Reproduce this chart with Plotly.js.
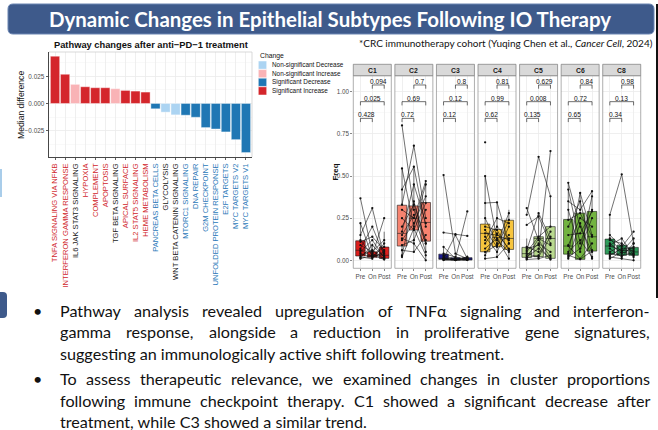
<!DOCTYPE html>
<html><head><meta charset="utf-8">
<script src="https://cdn.plot.ly/plotly-3.0.1.min.js"></script>
<style>html,body{margin:0;padding:0;background:#fff;overflow:hidden}#chart{width:658px;height:430px}</style>
</head><body><div id="chart"></div>
<script>
// ---------------- DATA ----------------
const pathways = ["TNFA SIGNALING VIA NFKB","INTERFERON GAMMA RESPONSE","IL6 JAK STAT3 SIGNALING","HYPOXIA","COMPLEMENT","APOPTOSIS","TGF BETA SIGNALING","APICAL SURFACE","IL2 STAT5 SIGNALING","HEME METABOLISM","PANCREAS BETA CELLS","GLYCOLYSIS","WNT BETA CATENIN SIGNALING","MTORC1 SIGNALING","DNA REPAIR","G2M CHECKPOINT","UNFOLDED PROTEIN RESPONSE","E2F TARGETS","MYC TARGETS V2","MYC TARGETS V1"];
const medianDiff = [0.0435,0.0269,0.0176,0.0154,0.0145,0.0145,0.0136,0.0120,0.0114,0.0105,-0.0049,-0.0080,-0.0105,-0.0108,-0.0127,-0.0222,-0.0235,-0.0262,-0.0333,-0.0452];
const changeClass = ["SI","SI","NI","SI","SI","SI","NI","SI","SI","SI","SD","ND","ND","SD","SD","SD","SD","SD","SD","SD"];
const legendOrder = ["ND","NI","SD","SI"];
const changeNames = {ND:"Non-significant Decrease",NI:"Non-significant Increase",SD:"Significant Decrease",SI:"Significant Increase"};

const clusters = ["C1","C2","C3","C4","C5","C6","C8"];
const timepoints = ["Pre","On","Post"];
// box statistics per cluster: [Pre, On, Post]
const boxQ1  = [[0.026,0.018,0.012],[0.085,0.18,0.114],[0.006,0.002,0.002],[0.051,0.081,0.065],[0.018,0.022,0.012],[0.037,0.006,0.055],[0.037,0.03,0.03]];
const boxMed = [[0.06,0.03,0.03],[0.16,0.25,0.225],[0.012,0.005,0.008],[0.16,0.136,0.13],[0.04,0.13,0.13],[0.085,0.16,0.14],[0.085,0.06,0.05]];
const boxQ3  = [[0.116,0.051,0.079],[0.327,0.323,0.343],[0.037,0.015,0.016],[0.215,0.183,0.238],[0.077,0.14,0.2],[0.242,0.28,0.29],[0.126,0.09,0.077]];
const boxLo  = [[0.005,0.005,0.002],[0.02,0.05,0.0],[0.002,0.001,0.002],[0.01,0.02,0.01],[0.005,0.01,0.005],[0.01,0.006,0.01],[0.01,0.01,0.0]];
const boxHi  = [[0.22,0.1,0.17],[0.545,0.555,0.47],[0.08,0.03,0.03],[0.5,0.344,0.3],[0.13,0.28,0.38],[0.46,0.4,0.41],[0.27,0.13,0.13]];
// p-values: On vs Post, Pre vs Post, Pre vs On
const pOnPost  = ["0.094","0.7","0.8","0.81","0.629","0.84","0.98"];
const pPrePost = ["0.025","0.69","0.12","0.99","0.008","0.72","0.13"];
const pPreOn   = ["0.428","0.72","0.12","0.62","0.135","0.65","0.34"];
// per-patient paired frequencies [Pre, On, Post]
const patientsC1 = [[0.368,0.04,0.01],[0.22,0.02,0.05],[0.15,0.31,0.02],[0.12,0.03,0.25],[0.11,0.14,0.06],[0.09,0.05,0.12],[0.07,0.2,0.03],[0.06,0.025,0.08],[0.05,0.12,0.015],[0.04,0.02,0.04],[0.03,0.06,0.01],[0.02,0.01,0.1],[0.015,0.09,0.02],[0.01,0.03,0.005]];
const patientsC2 = [[0.8,0.3,0.1],[0.545,0.2,0.45],[0.42,0.555,0.2],[0.33,0.68,0.25],[0.3,0.25,0.47],[0.25,0.18,0.34],[0.2,0.33,0.12],[0.17,0.45,0.22],[0.15,0.27,0.05],[0.12,0.22,0.38],[0.09,0.12,0.3],[0.06,0.05,0.15],[0.03,0.35,0.1],[0.02,0.19,0.03],[0.13,0.1,0.0]];
const patientsC3 = [[0.506,0.04,0.01],[0.165,0.155,0.145],[0.08,0.01,0.29],[0.04,0.02,0.005],[0.03,0.005,0.02],[0.01,0.15,0.01],[0.008,0.003,0.012],[0.005,0.008,0.002],[0.003,0.002,0.006],[0.002,0.004,0.003],[0.012,0.006,0.015],[0.02,0.001,0.004]];
const patientsC4 = [[0.7,null,null],[0.5,0.12,0.05],[0.34,0.344,0.1],[0.25,0.1,0.28],[0.2,0.18,0.06],[0.18,0.08,0.24],[0.16,0.15,0.12],[0.14,0.05,0.2],[0.1,0.2,0.13],[0.07,0.13,0.01],[0.05,0.09,0.15],[0.03,0.16,0.07],[0.01,0.02,0.1],[0.12,0.25,0.22]];
const patientsC5 = [[0.31,0.12,0.02],[0.21,0.26,0.1],[0.27,0.614,0.38],[0.08,0.05,0.648],[0.06,0.28,0.13],[0.05,0.14,0.2],[0.04,0.02,0.14],[0.03,0.1,0.05],[0.02,0.07,0.01],[0.015,0.03,0.17],[0.01,0.13,0.09],[0.07,0.09,0.005],[0.005,0.01,0.03]];
const patientsC6 = [[0.46,0.2,0.05],[0.42,0.1,0.3],[0.35,0.3,0.41],[0.3,0.05,0.38],[0.24,0.28,0.14],[0.2,0.35,0.06],[0.15,0.16,0.29],[0.09,0.25,0.2],[0.085,0.01,0.1],[0.05,0.12,0.02],[0.04,0.4,0.15],[0.03,0.006,0.055],[0.02,0.07,0.25],[0.01,0.22,0.01]];
const patientsC8 = [[0.27,0.51,0.1],[0.15,0.08,0.17],[0.13,0.05,0.13],[0.12,0.1,0.05],[0.1,0.04,0.08],[0.09,0.13,0.03],[0.085,0.06,0.06],[0.07,0.02,0.1],[0.05,0.09,0.02],[0.04,0.03,0.04],[0.03,0.07,0.07],[0.02,0.01,0.0],[0.01,0.05,0.035]];
const patientSets = [patientsC1,patientsC2,patientsC3,patientsC4,patientsC5,patientsC6,patientsC8];

const slideTitle = "Dynamic Changes in Epithelial Subtypes Following IO Therapy";
const barTitle = "Pathway changes after anti\u2212PD\u22121 treatment";
const bulletLines = [
  ["Pathway analysis revealed upregulation of TNF\u03b1 signaling and interferon-", true, true],
  ["gamma response, alongside a reduction in proliferative gene signatures,", true, false],
  ["suggesting an immunologically active shift following treatment.", false, false],
  ["To assess therapeutic relevance, we examined changes in cluster proportions", true, true],
  ["following immune checkpoint therapy. C1 showed a significant decrease after", true, false],
  ["treatment, while C3 showed a similar trend.", false, false]
];

// ---------------- STYLE ----------------
const barColors = {ND:"#acd4f2",NI:"#f9b3b6",SD:"#1f77b4",SI:"#d4262c"};
const labelColors = {ND:"#1a1a1a",NI:"#1a1a1a",SD:"#2a78b8",SI:"#d0262c"};
const clusterFill = ["#dd1f1c","#f7836f","#1c1c90","#f7c53d","#b9d98f","#72b340","#2e9b5a"];

const W = 658, H = 430;
const px = v => v / W;
const py = v => 1 - v / H;
const ARIAL = "Liberation Sans, Arial, sans-serif";
const BODY = "Lato";

const cv = document.createElement("canvas").getContext("2d");
function textW(t, size, fam, weight) { cv.font = (weight||"normal") + " " + size + "px " + fam; return cv.measureText(t).width; }

const traces = [];
const shapes = [];
const annotations = [];
const layout = {
  width: W, height: H, margin: {l:0,r:0,t:0,b:0},
  paper_bgcolor: "#ffffff", plot_bgcolor: "rgba(0,0,0,0)", showlegend: false,
  font: {family: ARIAL, color: "#1a1a1a"}
};

// ---- slide title banner ----
function roundRect(x0,y0,x1,y1,r){
  const X=v=>px(v), Y=v=>py(v);
  return `M ${X(x0+r)},${Y(y0)} L ${X(x1-r)},${Y(y0)} Q ${X(x1)},${Y(y0)} ${X(x1)},${Y(y0+r)} L ${X(x1)},${Y(y1-r)} Q ${X(x1)},${Y(y1)} ${X(x1-r)},${Y(y1)} L ${X(x0+r)},${Y(y1)} Q ${X(x0)},${Y(y1)} ${X(x0)},${Y(y1-r)} L ${X(x0)},${Y(y0+r)} Q ${X(x0)},${Y(y0)} ${X(x0+r)},${Y(y0)} Z`;
}
shapes.push({type:"path", xref:"paper", yref:"paper", path: roundRect(8,4,654,34,5), fillcolor:"#3e5a8b", line:{color:"#6b85b2", width:1}});
const titleSize = 563 / textW(slideTitle, 100, BODY, "bold") * 100;
annotations.push({text:"<b>"+slideTitle+"</b>", x:px(330), y:py(19.5), xref:"paper", yref:"paper", showarrow:false, xanchor:"center", yanchor:"middle", font:{family:BODY, size:titleSize, color:"#ffffff"}});
const subPlain = "*CRC immunotherapy cohort (Yuqing Chen et al., Cancer Cell, 2024)";
const subSize = 297 / textW(subPlain, 100, BODY) * 100;
annotations.push({text:"*CRC immunotherapy cohort (Yuqing Chen et al., <i>Cancer Cell</i>, 2024)", x:px(655), y:py(43), xref:"paper", yref:"paper", showarrow:false, xanchor:"right", yanchor:"middle", font:{family:BODY, size:subSize, color:"#111"}});
// right border line & left side decorations
shapes.push({type:"line", xref:"paper", yref:"paper", x0:px(657), x1:px(657), y0:py(4), y1:py(298), line:{color:"#111", width:2}});
shapes.push({type:"rect", xref:"paper", yref:"paper", x0:0, x1:px(2), y0:py(197), y1:py(169), fillcolor:"#a9cdea", line:{width:0}});
shapes.push({type:"path", xref:"paper", yref:"paper", path: roundRect(-8,292,7,318,4), fillcolor:"#3e5a8b", line:{width:0}});

// ---------------- LEFT BAR CHART ----------------
traces.push({type:"bar", x: pathways.map((_,i)=>i), y: medianDiff, width: 0.92,
  marker:{color: changeClass.map(c=>barColors[c]), line:{color:"#ffffff", width:0.4}},
  xaxis:"x", yaxis:"y", hoverinfo:"skip"});
layout.xaxis = {domain:[px(49), px(252)], range:[-0.6, 19.6], tickmode:"array",
  tickvals: pathways.map((_,i)=>i),
  ticktext: pathways.map((p,i)=>`<span style="fill:${labelColors[changeClass[i]]}">${p}</span>`),
  tickangle:-90, tickfont:{size:7.6, family:ARIAL}, ticks:"outside", ticklen:2.5, tickcolor:"#333", tickwidth:0.8,
  showgrid:true, gridcolor:"#ebebeb", gridwidth:0.8, showline:true, linecolor:"#333", linewidth:0.9, zeroline:false, anchor:"y", fixedrange:true};
layout.yaxis = {domain:[py(157), py(52)], range:[-0.0493, 0.0474], tick0:0, dtick:0.025, tickformat:".3f",
  tickfont:{size:6.4, color:"#4d4d4d"}, ticks:"outside", ticklen:2.5, tickcolor:"#333", tickwidth:0.8,
  showgrid:true, gridcolor:"#ebebeb", gridwidth:0.8,
  minor:{dtick:0.0125, tick0:0, showgrid:true, gridcolor:"#f5f5f5", gridwidth:0.6},
  showline:true, linecolor:"#333", linewidth:0.9, zeroline:false, anchor:"x", fixedrange:true};
shapes.push({type:"line", xref:"x domain", yref:"y domain", x0:0, x1:1, y0:1, y1:1, line:{color:"#cfcfcf", width:0.8}});
shapes.push({type:"line", xref:"x domain", yref:"y domain", x0:1, x1:1, y0:0, y1:1, line:{color:"#cfcfcf", width:0.8}});
annotations.push({text:"<b>"+barTitle+"</b>", x:px(150.5), y:py(44.5), xref:"paper", yref:"paper", showarrow:false, xanchor:"center", yanchor:"middle", font:{size:9.3, color:"#111"}});
annotations.push({text:"Median difference", x:px(21), y:py(105), xref:"paper", yref:"paper", showarrow:false, textangle:-90, xanchor:"center", yanchor:"middle", font:{size:8.6, color:"#111"}});
// legend
annotations.push({text:"Change", x:px(257.5), y:py(56), xref:"paper", yref:"paper", showarrow:false, xanchor:"left", yanchor:"middle", font:{size:6.8, color:"#111"}});
legendOrder.forEach((c,i)=>{
  const top = 60.8 + i*8.6;
  shapes.push({type:"rect", xref:"paper", yref:"paper", x0:px(258.3), x1:px(266.7), y0:py(top+8.4), y1:py(top+0.2), fillcolor:barColors[c], line:{color:"#ffffff", width:0.5}});
  annotations.push({text:changeNames[c], x:px(269.5), y:py(top+4.3), xref:"paper", yref:"paper", showarrow:false, xanchor:"left", yanchor:"middle", font:{size:6.4, color:"#111"}});
});

// ---------------- RIGHT FACETS ----------------
const fLeft = 353.3, fStep = 41.57, fW = 38, fTop = 75.7, fBot = 268.3, stripTop = 64.3;
const lvTop = 1.04, lvMid = 0.941, lvBot = 0.842, tip = 0.022;
clusters.forEach((cl, c) => {
  const n = c + 2, xa = "x"+n, ya = "y"+n;
  const x0 = fLeft + c*fStep;
  layout["xaxis"+n] = {domain:[px(x0), px(x0+fW)], range:[0.4,3.6], tickmode:"array", tickvals:[1,2,3], ticktext:timepoints,
    tickangle:0, tickfont:{size:6.3, color:"#4d4d4d"}, ticks:"outside", ticklen:2, tickcolor:"#555", tickwidth:0.7,
    showgrid:true, gridcolor:"#ebebeb", gridwidth:0.8, zeroline:false, showline:false, anchor:ya, fixedrange:true};
  layout["yaxis"+n] = {domain:[py(fBot), py(fTop)], range:[-0.047,1.095], tick0:0, dtick:0.25, tickformat:".2f",
    showticklabels: c===0, ticks: c===0 ? "outside" : "", ticklen:2, tickcolor:"#555", tickwidth:0.7,
    tickfont:{size:6.3, color:"#4d4d4d"}, showgrid:true, gridcolor:"#ebebeb", gridwidth:0.8,
    minor:{dtick:0.125, tick0:0, showgrid:true, gridcolor:"#f5f5f5", gridwidth:0.6},
    zeroline:false, showline:false, anchor:xa, fixedrange:true};
  traces.push({type:"box", x:[1,2,3], q1:boxQ1[c], median:boxMed[c], q3:boxQ3[c], lowerfence:boxLo[c], upperfence:boxHi[c],
    fillcolor:clusterFill[c], line:{color:"#1a1a1a", width:0.6}, whiskerwidth:0, width:0.8, boxpoints:false,
    xaxis:xa, yaxis:ya, hoverinfo:"skip"});
  const xs = [], ys = [];
  patientSets[c].forEach(p => { p.forEach((v,k)=>{ xs.push(k+1); ys.push(v); }); xs.push(null); ys.push(null); });
  traces.push({type:"scatter", mode:"lines+markers", x:xs, y:ys, connectgaps:false,
    line:{color:"#111", width:0.6}, marker:{color:"#111", size:2.3}, xaxis:xa, yaxis:ya, hoverinfo:"skip"});
  // panel border + strip
  shapes.push({type:"rect", xref:"paper", yref:"paper", x0:px(x0), x1:px(x0+fW), y0:py(fBot), y1:py(fTop), line:{color:"#8c8c8c", width:0.7}, fillcolor:"rgba(0,0,0,0)"});
  shapes.push({type:"rect", xref:"paper", yref:"paper", x0:px(x0), x1:px(x0+fW), y0:py(fTop), y1:py(stripTop), line:{color:"#7a7a7a", width:0.7}, fillcolor:"#d9d9d9"});
  annotations.push({text:"<b>"+cl+"</b>", x:px(x0+fW/2), y:py((fTop+stripTop)/2), xref:"paper", yref:"paper", showarrow:false, xanchor:"center", yanchor:"middle", font:{size:6.8, color:"#1a1a1a"}});
  // significance brackets
  const br = [[2,3,lvTop,pOnPost[c]],[1,3,lvMid,pPrePost[c]],[1,2,lvBot,pPreOn[c]]];
  br.forEach(([a,b,lv,txt])=>{
    shapes.push({type:"path", xref:xa, yref:ya, path:`M ${a},${lv-tip} L ${a},${lv} L ${b},${lv} L ${b},${lv-tip}`, line:{color:"#111", width:0.6}});
    annotations.push({text:txt, x:(a+b)/2, y:lv, xref:xa, yref:ya, showarrow:false, xanchor:"center", yanchor:"bottom", yshift:-2, font:{size:6.6, color:"#111"}});
  });
});
annotations.push({text:"<b>Freq</b>", x:px(334.5), y:py(172), xref:"paper", yref:"paper", showarrow:false, textangle:-90, xanchor:"center", yanchor:"middle", font:{size:7.8, color:"#111"}});

// ---------------- BULLET TEXT ----------------
// font size chosen to fit the reference line lengths on average
const fitTargets = [[2, 418], [5, 297], [3, 570], [4, 570]];
const bodySize = fitTargets.reduce((s,[i,t]) => s + t / textW(bulletLines[i][0], 100, BODY) * 100, 0) / fitTargets.length;
const tLeft = 60, tRight = 650;
const lineY = [310, 331.5, 353, 378.5, 400, 421];
bulletLines.forEach(([txt, justify, bullet], i) => {
  if (bullet) annotations.push({text:"\u2022", x:px(37), y:py(lineY[i]), xref:"paper", yref:"paper", showarrow:false, xanchor:"center", yanchor:"middle", font:{family:BODY, size:bodySize, color:"#111"}});
  if (!justify) {
    annotations.push({text:txt, x:px(tLeft), y:py(lineY[i]), xref:"paper", yref:"paper", showarrow:false, xanchor:"left", yanchor:"middle", borderpad:0, borderwidth:0, font:{family:BODY, size:bodySize, color:"#111"}});
    return;
  }
  const words = txt.split(" ");
  const ws = words.map(w => textW(w, bodySize, BODY));
  const total = ws.reduce((a,b)=>a+b, 0);
  const gap = (tRight - tLeft - total) / (words.length - 1);
  let x = tLeft;
  words.forEach((w, k) => {
    annotations.push({text:w, x:px(x), y:py(lineY[i]), xref:"paper", yref:"paper", showarrow:false, xanchor:"left", yanchor:"middle", borderpad:0, borderwidth:0, font:{family:BODY, size:bodySize, color:"#111"}});
    x += ws[k] + gap;
  });
});

layout.shapes = shapes;
layout.annotations = annotations;
Plotly.newPlot("chart", traces, layout, {staticPlot:true, displayModeBar:false});
</script></body></html>
